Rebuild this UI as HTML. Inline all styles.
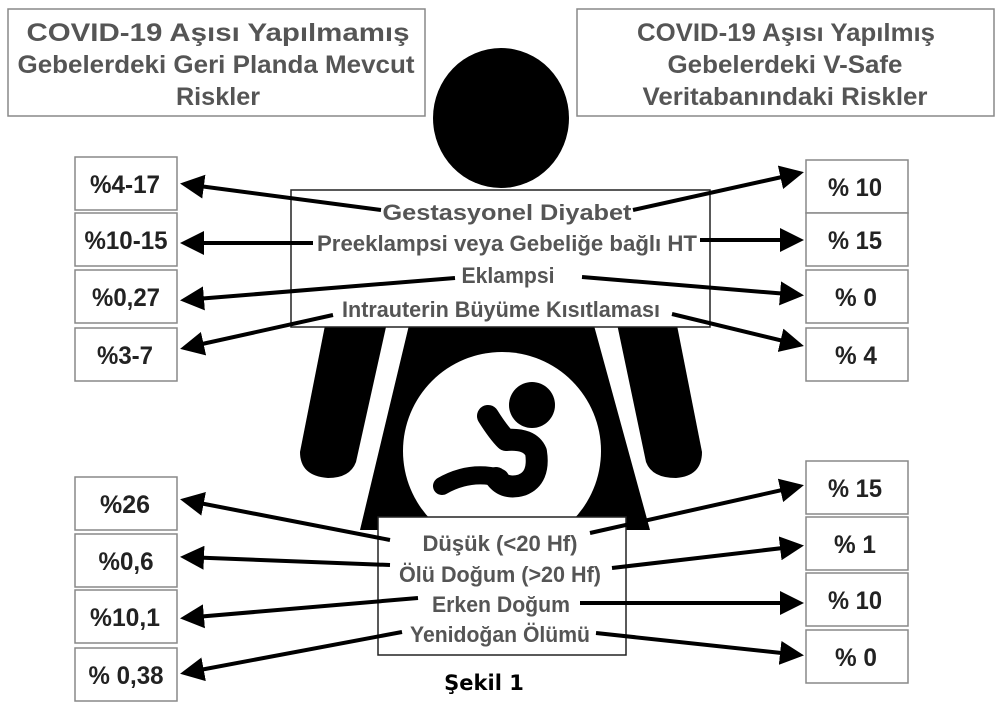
<!DOCTYPE html>
<html><head><meta charset="utf-8"><style>
html,body{margin:0;padding:0;background:#fff;width:1003px;height:711px;overflow:hidden}
svg{display:block}
.h{font-family:"Liberation Sans",sans-serif;font-weight:bold;font-size:25px;fill:#555;text-anchor:middle}
.c{font-family:"Liberation Sans",sans-serif;font-weight:bold;font-size:22px;fill:#555;text-anchor:middle}
.v{font-family:"Liberation Sans",sans-serif;font-weight:bold;font-size:25px;fill:#222;text-anchor:middle}
.bx{fill:#fff;stroke:#888;stroke-width:1.5}
.ar{stroke:#000;stroke-width:4;fill:none;marker-end:url(#a)}
</style></head><body>
<svg width="1003" height="711" viewBox="0 0 1003 711">
<defs><marker id="a" markerWidth="6" markerHeight="6" refX="5" refY="3" orient="auto" markerUnits="strokeWidth"><path d="M0,0 L6,3 L0,6 z" fill="#000"/></marker></defs>
<!-- silhouette -->
<ellipse cx="501" cy="118" rx="68" ry="70" fill="#000"/>
<path d="M415 300 L587 300 L650 530 L360 530 Z" fill="#000"/>
<path d="M330 300 L392 300 L356 462 Q350 478 328 478 Q300 476 300 452 Z" fill="#000"/>
<path d="M612 300 L672 300 L702 452 Q702 476 676 478 Q652 478 646 462 Z" fill="#000"/>
<circle cx="502" cy="451" r="99" fill="#fff"/>
<circle cx="532" cy="405" r="23" fill="#000"/>
<path d="M488 416 Q498 432 506 440 Q530 438 536 452 Q540 478 522 485 Q505 490 496 478" stroke="#000" stroke-width="22" stroke-linecap="round" stroke-linejoin="round" fill="none"/>
<path d="M500 478 Q470 470 442 486" stroke="#000" stroke-width="18" stroke-linecap="round" fill="none"/>
<!-- header boxes -->
<rect class="bx" x="8" y="9" width="417" height="107"/>
<text class="h" x="218" y="41" textLength="383" lengthAdjust="spacingAndGlyphs">COVID-19 Aşısı Yapılmamış</text>
<text class="h" x="216" y="73" textLength="397" lengthAdjust="spacingAndGlyphs">Gebelerdeki Geri Planda Mevcut</text>
<text class="h" x="218" y="105" textLength="84" lengthAdjust="spacingAndGlyphs">Riskler</text>
<rect class="bx" x="577" y="9" width="417" height="107"/>
<text class="h" x="786" y="41" textLength="298" lengthAdjust="spacingAndGlyphs">COVID-19 Aşısı Yapılmış</text>
<text class="h" x="785" y="73" textLength="235" lengthAdjust="spacingAndGlyphs">Gebelerdeki V-Safe</text>
<text class="h" x="785" y="105" textLength="285" lengthAdjust="spacingAndGlyphs">Veritabanındaki Riskler</text>
<!-- center boxes -->
<rect x="291" y="190" width="419" height="137" fill="#fff" stroke="#222" stroke-width="1.5"/>
<rect x="378" y="517" width="248" height="138" fill="#fff" stroke="#222" stroke-width="1.5"/>
<text class="c" x="507" y="220" textLength="249" lengthAdjust="spacingAndGlyphs">Gestasyonel Diyabet</text>
<text class="c" x="507" y="251" textLength="380" lengthAdjust="spacingAndGlyphs">Preeklampsi veya Gebeliğe bağlı HT</text>
<text class="c" x="508" y="283" textLength="93" lengthAdjust="spacingAndGlyphs">Eklampsi</text>
<text class="c" x="501" y="317" textLength="318" lengthAdjust="spacingAndGlyphs">Intrauterin Büyüme Kısıtlaması</text>
<text class="c" x="500" y="551" textLength="155" lengthAdjust="spacingAndGlyphs">Düşük (&lt;20 Hf)</text>
<text class="c" x="500" y="582" textLength="202" lengthAdjust="spacingAndGlyphs">Ölü Doğum (&gt;20 Hf)</text>
<text class="c" x="501" y="612" textLength="138" lengthAdjust="spacingAndGlyphs">Erken Doğum</text>
<text class="c" x="500" y="642" textLength="180" lengthAdjust="spacingAndGlyphs">Yenidoğan Ölümü</text>
<text x="484" y="690" font-family="'DejaVu Sans','Liberation Sans',sans-serif" font-weight="bold" font-size="21" fill="#000" text-anchor="middle">Şekil 1</text>
<!-- arrows -->
<g>
<line class="ar" x1="381" y1="210" x2="184" y2="184"/>
<line class="ar" x1="313" y1="243" x2="184" y2="243"/>
<line class="ar" x1="455" y1="278" x2="184" y2="300"/>
<line class="ar" x1="333" y1="315" x2="184" y2="348"/>
<line class="ar" x1="633" y1="210" x2="800" y2="173"/>
<line class="ar" x1="700" y1="240" x2="800" y2="240"/>
<line class="ar" x1="582" y1="277" x2="800" y2="295"/>
<line class="ar" x1="672" y1="314" x2="800" y2="345"/>
<line class="ar" x1="390" y1="540" x2="184" y2="500"/>
<line class="ar" x1="390" y1="565" x2="184" y2="557"/>
<line class="ar" x1="418" y1="598" x2="184" y2="618"/>
<line class="ar" x1="402" y1="632" x2="184" y2="673"/>
<line class="ar" x1="590" y1="533" x2="800" y2="486"/>
<line class="ar" x1="612" y1="568" x2="800" y2="546"/>
<line class="ar" x1="580" y1="603" x2="800" y2="603"/>
<line class="ar" x1="596" y1="633" x2="800" y2="655"/>
</g>
<!-- left value boxes -->
<rect class="bx" x="75" y="157" width="102" height="53"/><text class="v" x="125" y="193" textLength="70" lengthAdjust="spacingAndGlyphs">%4-17</text>
<rect class="bx" x="75" y="213" width="102" height="53"/><text class="v" x="126" y="249" textLength="83" lengthAdjust="spacingAndGlyphs">%10-15</text>
<rect class="bx" x="75" y="270" width="102" height="53"/><text class="v" x="126" y="306" textLength="68" lengthAdjust="spacingAndGlyphs">%0,27</text>
<rect class="bx" x="75" y="328" width="102" height="53"/><text class="v" x="125" y="364" textLength="56" lengthAdjust="spacingAndGlyphs">%3-7</text>
<rect class="bx" x="75" y="477" width="102" height="53"/><text class="v" x="125" y="513" textLength="50" lengthAdjust="spacingAndGlyphs">%26</text>
<rect class="bx" x="75" y="534" width="102" height="53"/><text class="v" x="126" y="570" textLength="55" lengthAdjust="spacingAndGlyphs">%0,6</text>
<rect class="bx" x="75" y="590" width="102" height="53"/><text class="v" x="125" y="626" textLength="70" lengthAdjust="spacingAndGlyphs">%10,1</text>
<rect class="bx" x="75" y="648" width="102" height="53"/><text class="v" x="126" y="684" textLength="75" lengthAdjust="spacingAndGlyphs">% 0,38</text>
<!-- right value boxes -->
<rect class="bx" x="806" y="160" width="102" height="53"/><text class="v" x="855" y="196" textLength="54" lengthAdjust="spacingAndGlyphs">% 10</text>
<rect class="bx" x="806" y="213" width="102" height="53"/><text class="v" x="855" y="249" textLength="54" lengthAdjust="spacingAndGlyphs">% 15</text>
<rect class="bx" x="806" y="270" width="102" height="53"/><text class="v" x="856" y="306" textLength="42" lengthAdjust="spacingAndGlyphs">% 0</text>
<rect class="bx" x="806" y="328" width="102" height="53"/><text class="v" x="856" y="364" textLength="42" lengthAdjust="spacingAndGlyphs">% 4</text>
<rect class="bx" x="806" y="461" width="102" height="53"/><text class="v" x="855" y="497" textLength="54" lengthAdjust="spacingAndGlyphs">% 15</text>
<rect class="bx" x="806" y="517" width="102" height="53"/><text class="v" x="855" y="553" textLength="42" lengthAdjust="spacingAndGlyphs">% 1</text>
<rect class="bx" x="806" y="573" width="102" height="53"/><text class="v" x="855" y="609" textLength="54" lengthAdjust="spacingAndGlyphs">% 10</text>
<rect class="bx" x="806" y="630" width="102" height="53"/><text class="v" x="856" y="666" textLength="42" lengthAdjust="spacingAndGlyphs">% 0</text>
</svg>
</body></html>
